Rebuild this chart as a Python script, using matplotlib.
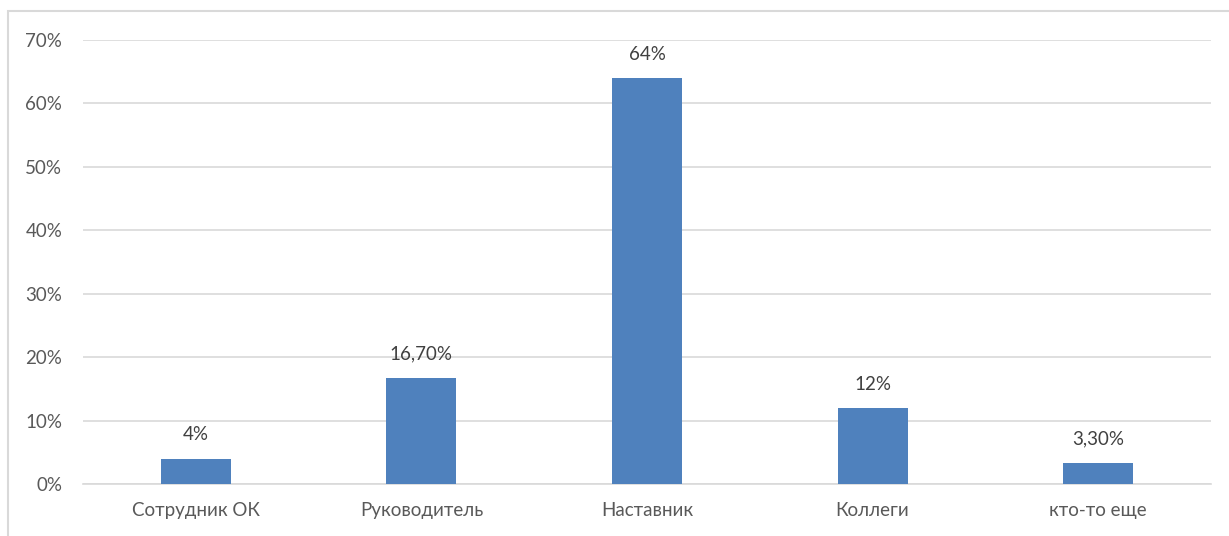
import matplotlib.pyplot as plt
from matplotlib.patches import Rectangle
from matplotlib.ticker import FuncFormatter

categories = ["Сотрудник ОК", "Руководитель", "Наставник", "Коллеги", "кто-то еще"]
values = [4, 16.7, 64, 12, 3.3]
value_labels = ["4%", "16,70%", "64%", "12%", "3,30%"]
yticks = [0, 10, 20, 30, 40, 50, 60, 70]

W, H = 1229, 536
fig = plt.figure(figsize=(W / 100, H / 100), dpi=100)
plt.rcParams['font.family'] = ['Lato', 'DejaVu Sans']
text_color = "#595959"

# chart border (extends beyond right/bottom edge)
fig.patches.append(Rectangle((8 / W, -0.1), 1.2, (H - 11) / H + 0.1,
                             transform=fig.transFigure, fill=False,
                             edgecolor="#D9D9D9", linewidth=1.5))

ax = fig.add_axes([83 / W, (H - 484) / H, (1211 - 83) / W, (484 - 40) / H])
x = range(len(categories))
ax.bar(x, values, width=0.31, color="#4F81BD", zorder=3)

for xi, v, lab in zip(x, values, value_labels):
    ax.annotate(lab, (xi, v), xytext=(0, 11), textcoords="offset points",
                ha="center", va="bottom", fontsize=13.5, color="#404040")

ax.set_xlim(-0.5, len(categories) - 0.5)
ax.set_ylim(0, 70)
ax.set_yticks(yticks)
ax.yaxis.set_major_formatter(FuncFormatter(lambda v, p: f"{int(v)}%"))
ax.set_xticks(list(x))
ax.set_xticklabels(categories)
ax.grid(axis="y", color="#D9D9D9", linewidth=1.2, zorder=0)
for s in ["top", "right", "left"]:
    ax.spines[s].set_visible(False)
ax.spines["bottom"].set_color("#D9D9D9")
ax.spines["bottom"].set_linewidth(1.2)
ax.tick_params(axis="both", length=0, labelsize=13.5, colors=text_color)
ax.tick_params(axis="y", pad=15)
ax.tick_params(axis="x", pad=13)

fig.savefig("out.png", dpi=100)
